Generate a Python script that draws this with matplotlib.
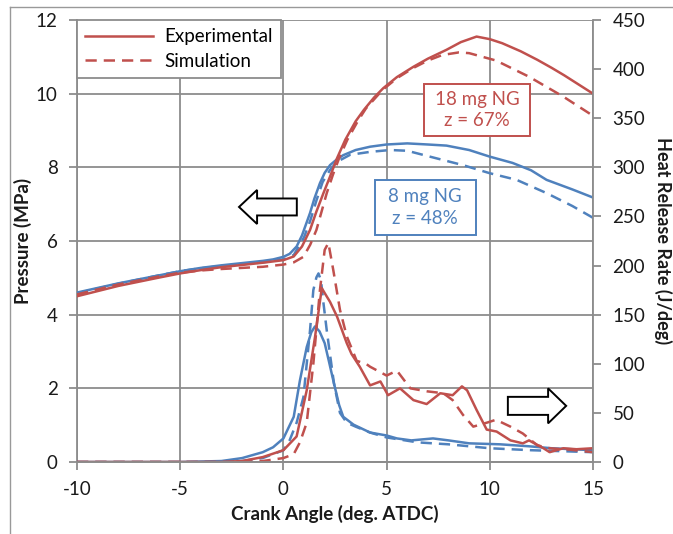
import matplotlib
matplotlib.use("Agg")
import matplotlib.pyplot as plt
from matplotlib.lines import Line2D
from matplotlib.patches import Rectangle, Polygon

plt.rcParams['font.family'] = ['Lato', 'DejaVu Sans']
plt.rcParams['axes.unicode_minus'] = False

RED = '#C0504D'
BLUE = '#4F81BD'
GRID = '#8C8C8C'

# ---------------- data ----------------
# Pressure (MPa), left axis
ca_p_blue_exp = [-10, -8, -6, -5, -4, -3, -2, -1, -0.5, 0, 0.3, 0.64, 0.9, 1.29, 1.5, 1.77, 2.0, 2.26, 2.6, 2.9,
                 3.5, 4.2, 5.0, 6.0, 7.0, 7.9, 9.0, 10.0, 11.1, 12.0, 12.75, 14.0, 15.0]
p_blue_exp = [4.60, 4.85, 5.07, 5.18, 5.27, 5.34, 5.40, 5.46, 5.50, 5.57, 5.65, 5.85, 6.15, 6.76, 7.15, 7.57, 7.85,
              8.06, 8.22, 8.33, 8.47, 8.56, 8.62, 8.65, 8.62, 8.59, 8.47, 8.29, 8.12, 7.92, 7.66, 7.40, 7.18]

ca_p_blue_sim = [-10, -8, -6, -5, -4, -3, -2, -1, 0, 0.5, 1.0, 1.3, 1.6, 1.9, 2.26, 2.6, 3.23, 4.2, 5.17, 6.0,
                 7.1, 8.7, 10.0, 11.3, 12.75, 14.0, 15.0]
p_blue_sim = [4.58, 4.84, 5.07, 5.18, 5.26, 5.32, 5.37, 5.42, 5.50, 5.62, 6.10, 6.55, 7.10, 7.60, 7.93, 8.15, 8.34,
              8.42, 8.47, 8.45, 8.29, 8.06, 7.84, 7.66, 7.30, 6.95, 6.63]

ca_p_red_exp = [-10, -8, -6, -5, -4, -3, -2, -1, 0, 0.5, 0.9, 1.29, 1.6, 1.94, 2.26, 2.6, 3.0, 3.5, 3.9, 4.4,
                4.84, 5.5, 6.3, 7.0, 7.9, 8.6, 9.36, 10.0, 10.6, 11.5, 12.3, 13.0, 13.6, 14.3, 15.0]
p_red_exp = [4.50, 4.78, 5.01, 5.12, 5.21, 5.29, 5.35, 5.41, 5.48, 5.58, 5.85, 6.30, 6.80, 7.30, 7.75, 8.25, 8.75,
             9.25, 9.56, 9.90, 10.15, 10.45, 10.73, 10.95, 11.19, 11.40, 11.55, 11.48, 11.37, 11.15, 10.92, 10.70,
             10.50, 10.25, 10.00]

ca_p_red_sim = [-10, -8, -6, -5, -4, -3, -2, -1, 0, 0.5, 0.97, 1.3, 1.6, 1.85, 2.1, 2.4, 2.7, 3.1, 3.6, 4.0,
                4.8, 5.5, 6.3, 7.0, 7.7, 8.5, 9.0, 10.3, 11.9, 13.56, 15.0]
p_red_sim = [4.55, 4.82, 5.04, 5.14, 5.20, 5.24, 5.27, 5.30, 5.36, 5.42, 5.57, 5.90, 6.30, 6.80, 7.30, 7.80, 8.25,
             8.75, 9.25, 9.60, 10.10, 10.42, 10.70, 10.90, 11.05, 11.12, 11.10, 10.90, 10.46, 9.92, 9.40]

# Heat release rate (J/deg), right axis
ca_h_blue_exp = [-10, -7, -5, -4, -3, -2, -1, -0.5, 0, 0.5, 0.8, 1.13, 1.35, 1.53, 1.75, 2.0, 2.2, 2.45, 2.7, 2.9,
                 3.4, 4.2, 5.0, 5.5, 6.2, 7.25, 8.0, 9.0, 10.5, 11.9, 13.0, 14.0, 15.0]
h_blue_exp = [0, 0, 0, 0.5, 1, 4, 10, 15, 24, 46, 83, 117, 132, 138, 133, 121, 103, 80, 58, 46,
              38, 30, 27, 24, 22, 24, 22, 19, 18, 16, 14, 13, 12]

ca_h_blue_sim = [-10, -5, -3, -2, -1, 0, 0.3, 0.64, 0.97, 1.29, 1.45, 1.6, 1.7, 1.82, 1.94, 2.1, 2.45, 2.74,
                 3.07, 3.5, 4.2, 5.0, 6.5, 8.0, 10.0, 12.0, 13.5, 15.0]
h_blue_sim = [0, 0, 0, 1, 4, 12, 22, 40, 66, 134, 175, 188, 192, 185, 162, 134, 80, 50,
              40, 36, 30, 25, 20, 18, 14, 12, 11, 10]

ca_h_red_exp = [-10, -5, -3, -2, -1, 0, 0.64, 1.13, 1.53, 1.86, 2.0, 2.26, 2.6, 3.07, 3.3, 3.7, 4.2, 4.7, 5.07,
                5.65, 6.3, 6.94, 7.6, 8.2, 8.65, 8.9, 9.36, 9.85, 10.33, 11.0, 11.6, 11.9, 12.6, 12.9, 13.56,
                14.2, 15.0]
h_red_exp = [0, 0, 0, 1, 5, 12, 26, 73, 127, 177, 172, 163, 148, 121, 110, 97, 78, 82, 68,
             75, 63, 59, 70, 68, 77, 73, 53, 33, 31, 22, 19, 22, 14, 10, 14,
             13, 14]

ca_h_red_sim = [-10, -5, -2, -1, 0, 0.5, 0.8, 1.13, 1.45, 1.77, 2.0, 2.18, 2.42, 2.74, 3.07, 3.55, 4.0, 4.2,
                5.0, 5.5, 6.15, 6.94, 7.75, 8.2, 8.7, 9.2, 9.85, 10.3, 11.0, 11.6, 12.3, 12.9, 13.9, 15.0]
h_red_sim = [0, 0, 0, 1, 4, 8, 20, 40, 100, 175, 216, 223, 195, 155, 128, 103, 100, 97,
             88, 93, 75, 72, 70, 63, 48, 36, 40, 43, 36, 29, 17, 14, 12.5, 10]

x_ticks = [-10, -5, 0, 5, 10, 15]
p_ticks = [0, 2, 4, 6, 8, 10, 12]
h_ticks = [0, 50, 100, 150, 200, 250, 300, 350, 400, 450]

legend_labels = ['Experimental', 'Simulation']
label_red = '18 mg NG\nz = 67%'
label_blue = '8 mg NG\nz = 48%'

# ---------------- figure ----------------
W, H = 673, 534
fig = plt.figure(figsize=(W / 100, H / 100), dpi=100)
ax = fig.add_axes([77 / W, 1 - 462 / H, (593 - 77) / W, (462 - 20) / H])
ax2 = ax.twinx()

lw = 1.8
dash = (0, (4.5, 2.8))
ax.plot(ca_p_blue_exp, p_blue_exp, color=BLUE, lw=lw, zorder=3)
ax.plot(ca_p_blue_sim, p_blue_sim, color=BLUE, lw=lw, ls=dash, zorder=3)
ax.plot(ca_p_red_exp, p_red_exp, color=RED, lw=lw, zorder=3)
ax.plot(ca_p_red_sim, p_red_sim, color=RED, lw=lw, ls=dash, zorder=3)

ax2.plot(ca_h_blue_exp, h_blue_exp, color=BLUE, lw=lw)
ax2.plot(ca_h_blue_sim, h_blue_sim, color=BLUE, lw=lw, ls=dash)
ax2.plot(ca_h_red_exp, h_red_exp, color=RED, lw=lw)
ax2.plot(ca_h_red_sim, h_red_sim, color=RED, lw=lw, ls=dash)

ax.set_xlim(-10, 15)
ax.set_ylim(0, 12)
ax2.set_ylim(0, 450)
ax.set_xticks(x_ticks)
ax.set_yticks(p_ticks)
ax2.set_yticks(h_ticks)

ax.grid(True, color=GRID, lw=1.3)
ax.set_axisbelow(True)
for a in (ax, ax2):
    for s in a.spines.values():
        s.set_color(GRID)
        s.set_linewidth(1.3)
    a.spines['top'].set_visible(False)
    a.tick_params(colors=GRID, labelcolor='#1a1a1a', labelsize=13.5, length=6, width=1.3, direction='out')
ax.spines['right'].set_visible(False)
ax2.spines['left'].set_visible(False)
ax.tick_params(axis='x', pad=8)
ax.tick_params(axis='y', pad=8)
ax2.tick_params(axis='y', pad=8)

ax.set_xlabel('Crank Angle (deg. ATDC)', fontsize=13.5, fontweight='bold', color='#1a1a1a', labelpad=5)
ax.set_ylabel('Pressure (MPa)', fontsize=13.5, fontweight='bold', color='#1a1a1a', labelpad=3)
ax2.set_ylabel('Heat Release Rate (J/deg)', fontsize=13, fontweight='bold', color='#1a1a1a',
               rotation=270, labelpad=19)

# legend
handles = [Line2D([], [], color=RED, lw=lw), Line2D([], [], color=RED, lw=lw, ls=dash)]
leg = ax2.legend(handles, legend_labels, loc='upper left', bbox_to_anchor=(0.0, 1.0), borderaxespad=0,
                 fancybox=False, framealpha=1, edgecolor=GRID, fontsize=13.5, handlelength=3.6,
                 handletextpad=0.6, borderpad=0.45, labelspacing=0.4)
leg.get_frame().set_linewidth(1.3)

# annotation boxes
ax2.add_patch(Rectangle((0.6725, 0.7376), 0.2055, 0.1174, transform=ax2.transAxes, fill=True,
                        facecolor='white', edgecolor=RED, lw=1.4, zorder=5))
ax2.text(0.775, 0.7963, label_red, transform=ax2.transAxes, ha='center', va='center', color=RED,
         fontsize=13.5, linespacing=1.3, zorder=6)
ax2.add_patch(Rectangle((0.5775, 0.5136), 0.1952, 0.1244, transform=ax2.transAxes, fill=True,
                        facecolor='white', edgecolor=BLUE, lw=1.4, zorder=5))
ax2.text(0.6751, 0.5758, label_blue, transform=ax2.transAxes, ha='center', va='center', color=BLUE,
         fontsize=13.5, linespacing=1.3, zorder=6)


# block arrows (axes fraction coords)
def block_arrow(tail, tip, base, yc, bh, hh):
    pts = [(tail, yc - bh), (base, yc - bh), (base, yc - hh), (tip, yc),
           (base, yc + hh), (base, yc + bh), (tail, yc + bh)]
    ax2.add_patch(Polygon(pts, closed=True, transform=ax2.transAxes, facecolor='white',
                          edgecolor='black', lw=1.4, zorder=6))


block_arrow(0.426, 0.314, 0.349, 0.577, 0.0192, 0.0385)
block_arrow(0.835, 0.948, 0.913, 0.127, 0.0204, 0.0396)

# outer frame
fig.add_artist(Line2D([10 / W, 10 / W], [0, 1 - 7 / H], transform=fig.transFigure, color='#999999', lw=1))
fig.add_artist(Line2D([10 / W, 1], [1 - 7 / H, 1 - 7 / H], transform=fig.transFigure, color='#999999', lw=1))

fig.savefig('out.png', dpi=100)
